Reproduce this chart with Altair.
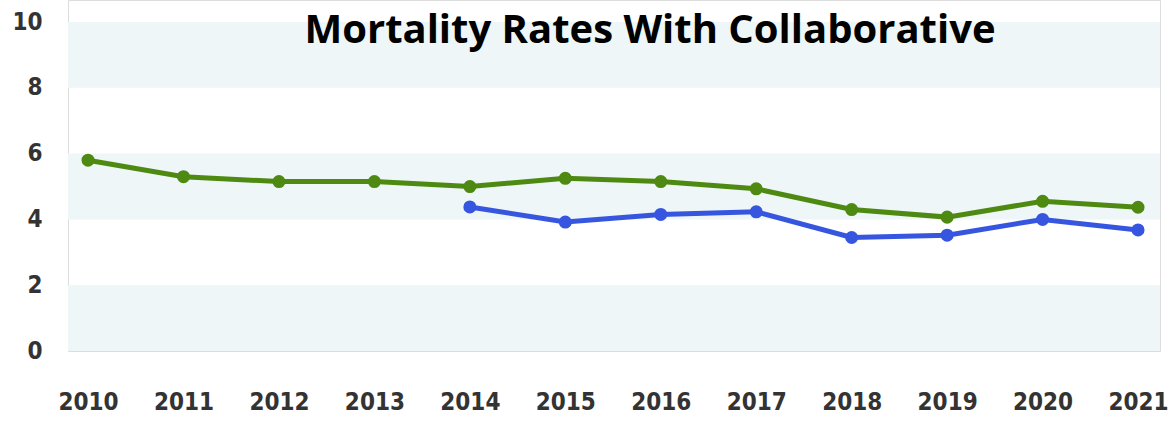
import altair as alt
import pandas as pd

years = list(range(2010, 2022))
green_vals = [5.8, 5.3, 5.15, 5.15, 5.0, 5.25, 5.15, 4.93, 4.3, 4.07, 4.55, 4.37]
blue_years = list(range(2014, 2022))
blue_vals = [4.38, 3.92, 4.15, 4.23, 3.45, 3.52, 4.0, 3.68]
band_lo = [0, 4, 8]
band_hi = [2, 6, 10]
y_ticks = [0, 2, 4, 6, 8, 10]
title_text = "Mortality Rates With Collaborative"

W, H = 1092, 351
LABEL_FONT = "DejaVu Sans Condensed"

df = pd.concat([
    pd.DataFrame({"year": years, "rate": green_vals, "series": "green"}),
    pd.DataFrame({"year": blue_years, "rate": blue_vals, "series": "blue"}),
])
bands = pd.DataFrame({"lo": band_lo, "hi": band_hi})

xscale = alt.Scale(domain=[2009.79, 2021.23], nice=False, zero=False)
yscale = alt.Scale(domain=[0, 10.67], nice=False)
color = alt.Color("series:N", scale=alt.Scale(domain=["green", "blue"], range=["#4e8a12", "#3656e0"]), legend=None)

band_layer = alt.Chart(bands).mark_rect(color="#eef6f8").encode(
    x=alt.value(0), x2=alt.value(W),
    y=alt.Y("lo:Q", scale=yscale,
            axis=alt.Axis(values=y_ticks, grid=False, ticks=False, domain=False,
                          labelPadding=26, labelFontSize=24, labelFont=LABEL_FONT,
                          labelFontWeight="bold", labelColor="#333333", title=None)),
    y2="hi:Q",
)

base = alt.Chart(df).encode(
    x=alt.X("year:Q", scale=xscale,
            axis=alt.Axis(values=years, format="d", grid=False, ticks=False, domain=False,
                          labelPadding=39, labelFontSize=24, labelFont=LABEL_FONT,
                          labelFontWeight="bold", labelColor="#333333", title=None)),
    y=alt.Y("rate:Q", scale=yscale),
    color=color,
    detail="series:N",
)
lines = base.mark_line(strokeWidth=5)
pts = base.mark_circle(size=170, opacity=1)

title = alt.Chart(pd.DataFrame({"t": [title_text]})).mark_text(
    font="Open Sans", fontWeight="bold", fontSize=40, color="#000000", baseline="alphabetic", align="center"
).encode(x=alt.value(582), y=alt.value(43), text="t:N")

chart = alt.layer(band_layer, lines, pts, title).properties(
    width=W, height=H,
    autosize=alt.AutoSizeParams(type="none"),
    padding={"left": 68, "top": 0, "right": 11, "bottom": 70},
).configure_view(stroke=None).configure(background="white")

chart.save("out.html", embed_options={"renderer": "svg", "actions": False})
